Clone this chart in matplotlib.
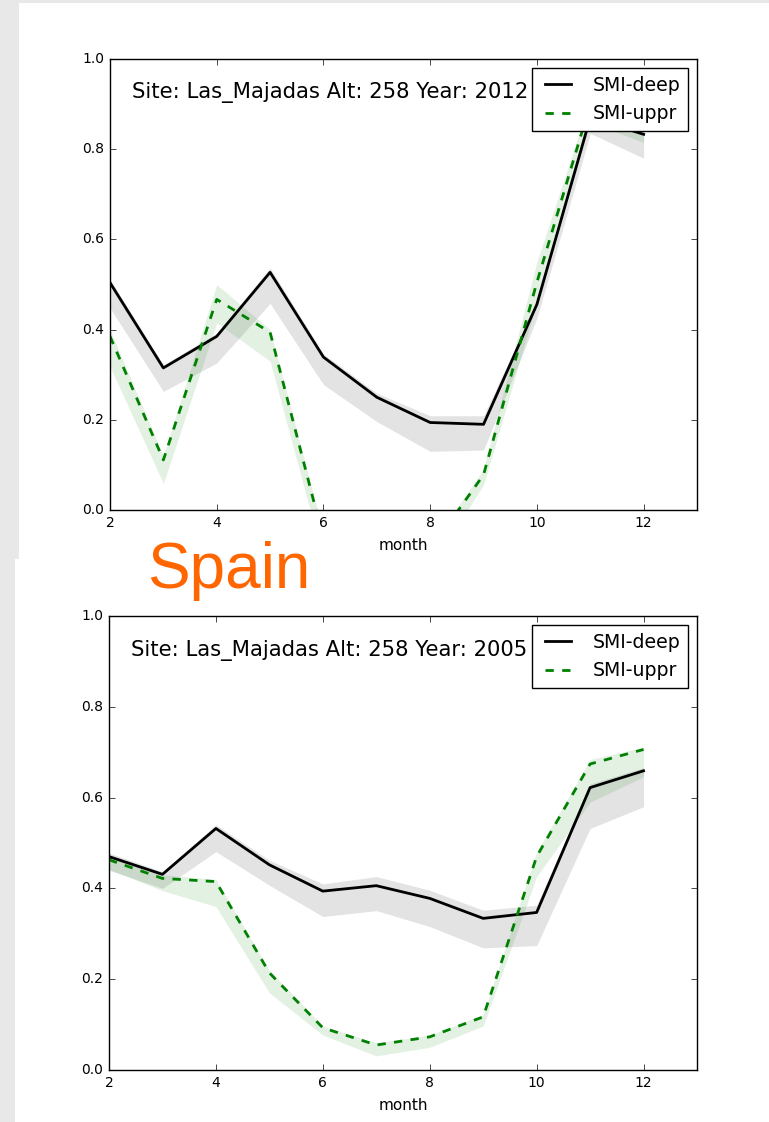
import matplotlib
matplotlib.use("Agg")
import matplotlib.pyplot as plt
from matplotlib.patches import Rectangle

plt.style.use("classic")

months = [2, 3, 4, 5, 6, 7, 8, 9, 10, 11, 12]

# 2012
deep_2012 = [0.504, 0.315, 0.385, 0.527, 0.339, 0.250, 0.194, 0.190, 0.456, 0.870, 0.833]
deep_2012_lo = [0.448, 0.263, 0.326, 0.458, 0.278, 0.196, 0.130, 0.133, 0.425, 0.835, 0.780]
deep_2012_hi = [0.512, 0.322, 0.392, 0.537, 0.346, 0.259, 0.209, 0.209, 0.462, 0.878, 0.840]
uppr_2012 = [0.385, 0.111, 0.467, 0.394, -0.064, -0.150, -0.088, 0.078, 0.505, 0.900, 0.855]
uppr_2012_lo = [0.318, 0.059, 0.415, 0.330, -0.110, -0.200, -0.130, 0.056, 0.460, 0.860, 0.815]
uppr_2012_hi = [0.400, 0.120, 0.500, 0.400, -0.050, -0.140, -0.080, 0.090, 0.550, 0.910, 0.860]

# 2005
deep_2005 = [0.470, 0.431, 0.532, 0.452, 0.394, 0.406, 0.378, 0.334, 0.347, 0.622, 0.659]
deep_2005_lo = [0.440, 0.400, 0.481, 0.407, 0.338, 0.351, 0.316, 0.269, 0.274, 0.532, 0.580]
deep_2005_hi = [0.478, 0.437, 0.540, 0.462, 0.410, 0.426, 0.396, 0.352, 0.363, 0.630, 0.666]
uppr_2005 = [0.463, 0.422, 0.415, 0.214, 0.093, 0.055, 0.073, 0.117, 0.470, 0.674, 0.706]
uppr_2005_lo = [0.442, 0.395, 0.360, 0.170, 0.077, 0.031, 0.050, 0.097, 0.426, 0.590, 0.646]
uppr_2005_hi = [0.475, 0.430, 0.420, 0.220, 0.097, 0.060, 0.077, 0.122, 0.480, 0.684, 0.711]

W, H = 769, 1122
fig = plt.figure(figsize=(W / 100, H / 100), dpi=100, facecolor="#e8e8e8")

# white panels behind each plot
fig.patches.append(Rectangle((19 / W, 1 - 559 / H), 1, (559 - 3) / H,
                             transform=fig.transFigure, facecolor="white",
                             edgecolor="none", zorder=-5))
fig.patches.append(Rectangle((15 / W, 0), 1, 1 - 559 / H,
                             transform=fig.transFigure, facecolor="white",
                             edgecolor="none", zorder=-5))


def panel(rect, year, deep, dlo, dhi, uppr, ulo, uhi):
    ax = fig.add_axes(rect)
    ax.fill_between(months, dlo, dhi, color="black", alpha=0.11, linewidth=0)
    ax.fill_between(months, ulo, uhi, color="green", alpha=0.11, linewidth=0)
    ax.plot(months, deep, color="black", lw=2, label="SMI-deep")
    ax.plot(months, uppr, color="green", lw=2, ls="--", label="SMI-uppr")
    ax.set_xlim(2, 13)
    ax.set_ylim(0, 1)
    ax.set_xticks([2, 4, 6, 8, 10, 12])
    ax.set_yticks([0.0, 0.2, 0.4, 0.6, 0.8, 1.0])
    ax.tick_params(labelsize=10)
    ax.set_xlabel("month", fontsize=11, labelpad=6)
    ax.text(0.037, 0.925, "Site: Las_Majadas Alt: 258 Year: %d" % year,
            transform=ax.transAxes, fontsize=15.2, va="center")
    ax.legend(loc="upper right", fontsize=13.6, numpoints=2)
    return ax


panel([110 / W, 1 - 510 / H, 587 / W, 451 / H], 2012,
      deep_2012, deep_2012_lo, deep_2012_hi, uppr_2012, uppr_2012_lo, uppr_2012_hi)
panel([109 / W, 1 - 1070 / H, 588 / W, 454 / H], 2005,
      deep_2005, deep_2005_lo, deep_2005_hi, uppr_2005, uppr_2005_lo, uppr_2005_hi)

fig.text(147 / W, 1 - 588 / H, "Spain", color="#ff6600", fontsize=46,
         family="Liberation Sans")

fig.savefig("out.png", dpi=100, facecolor=fig.get_facecolor())
